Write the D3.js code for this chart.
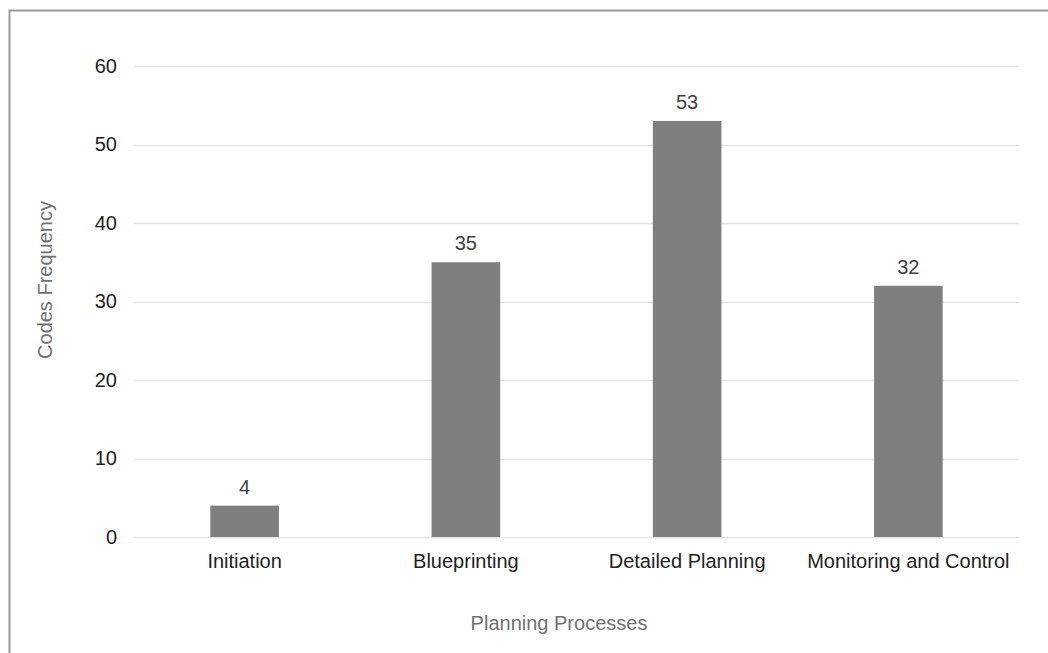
<!DOCTYPE html>
<html>
<head>
<meta charset="utf-8">
<script src="https://cdn.jsdelivr.net/npm/d3@7"></script>
<style>
  html, body { margin: 0; padding: 0; background: #fff; }
  svg { display: block; font-family: "Liberation Sans", Arial, sans-serif; }
</style>
</head>
<body>
<svg id="chart" width="1048" height="653"></svg>
<script>
// Code frequencies per planning process
const categories = ["Initiation", "Blueprinting", "Detailed Planning", "Monitoring and Control"];
const frequencies = [4, 35, 53, 32];
const yTicks = [0, 10, 20, 30, 40, 50, 60];

const svg = d3.select("#chart");
const W = 1048, H = 653;
const plot = { left: 134, right: 1019, top: 66, bottom: 537 };
const FONT = 20;

// Chart frame (left and top edges visible)
svg.append("rect")
  .attr("x", 9.5).attr("y", 10.5)
  .attr("width", W + 20).attr("height", H + 20)
  .attr("fill", "none")
  .attr("stroke", "#9a9a9a")
  .attr("stroke-width", 2);

const x = d3.scaleBand()
  .domain(categories)
  .range([plot.left, plot.right])
  .paddingInner(0.69)
  .paddingOuter(0.345);

const y = d3.scaleLinear()
  .domain([0, 60])
  .range([plot.bottom, plot.top]);

// Horizontal gridlines
svg.append("g")
  .selectAll("line")
  .data(yTicks)
  .join("line")
  .attr("x1", plot.left).attr("x2", plot.right)
  .attr("y1", d => Math.round(y(d)) + 0.5)
  .attr("y2", d => Math.round(y(d)) + 0.5)
  .attr("stroke", "#e3e3e3")
  .attr("stroke-width", 1.5);

// Y axis labels
const yAxis = d3.axisLeft(y).tickValues(yTicks).tickSize(0).tickPadding(0);
svg.append("g")
  .attr("transform", `translate(${plot.left - 17},0)`)
  .call(yAxis)
  .call(g => g.select(".domain").remove())
  .call(g => g.selectAll("text")
    .attr("font-family", "Liberation Sans, Arial, sans-serif")
    .attr("font-size", FONT)
    .attr("fill", "#1e1e1e"));

// Bars
svg.append("g")
  .selectAll("rect")
  .data(frequencies)
  .join("rect")
  .attr("x", (d, i) => x(categories[i]))
  .attr("width", x.bandwidth())
  .attr("y", d => y(d))
  .attr("height", d => y(0) - y(d))
  .attr("fill", "#7f7f7f");

// Value labels
svg.append("g")
  .selectAll("text")
  .data(frequencies)
  .join("text")
  .attr("x", (d, i) => x(categories[i]) + x.bandwidth() / 2)
  .attr("y", d => y(d) - 12)
  .attr("text-anchor", "middle")
  .attr("font-size", FONT)
  .attr("fill", "#404040")
  .text(d => d);

// X axis labels
const xAxis = d3.axisBottom(x).tickSize(0).tickPadding(0);
svg.append("g")
  .attr("transform", `translate(0,${plot.bottom + 17})`)
  .call(xAxis)
  .call(g => g.select(".domain").remove())
  .call(g => g.selectAll("text")
    .attr("font-family", "Liberation Sans, Arial, sans-serif")
    .attr("font-size", FONT)
    .attr("fill", "#1e1e1e"));

// Axis titles
svg.append("text")
  .attr("x", 559)
  .attr("y", 630)
  .attr("text-anchor", "middle")
  .attr("font-size", FONT)
  .attr("fill", "#707070")
  .text("Planning Processes");

svg.append("text")
  .attr("transform", `translate(52,280) rotate(-90)`)
  .attr("text-anchor", "middle")
  .attr("font-size", FONT)
  .attr("fill", "#707070")
  .text("Codes Frequency");
</script>
</body>
</html>
